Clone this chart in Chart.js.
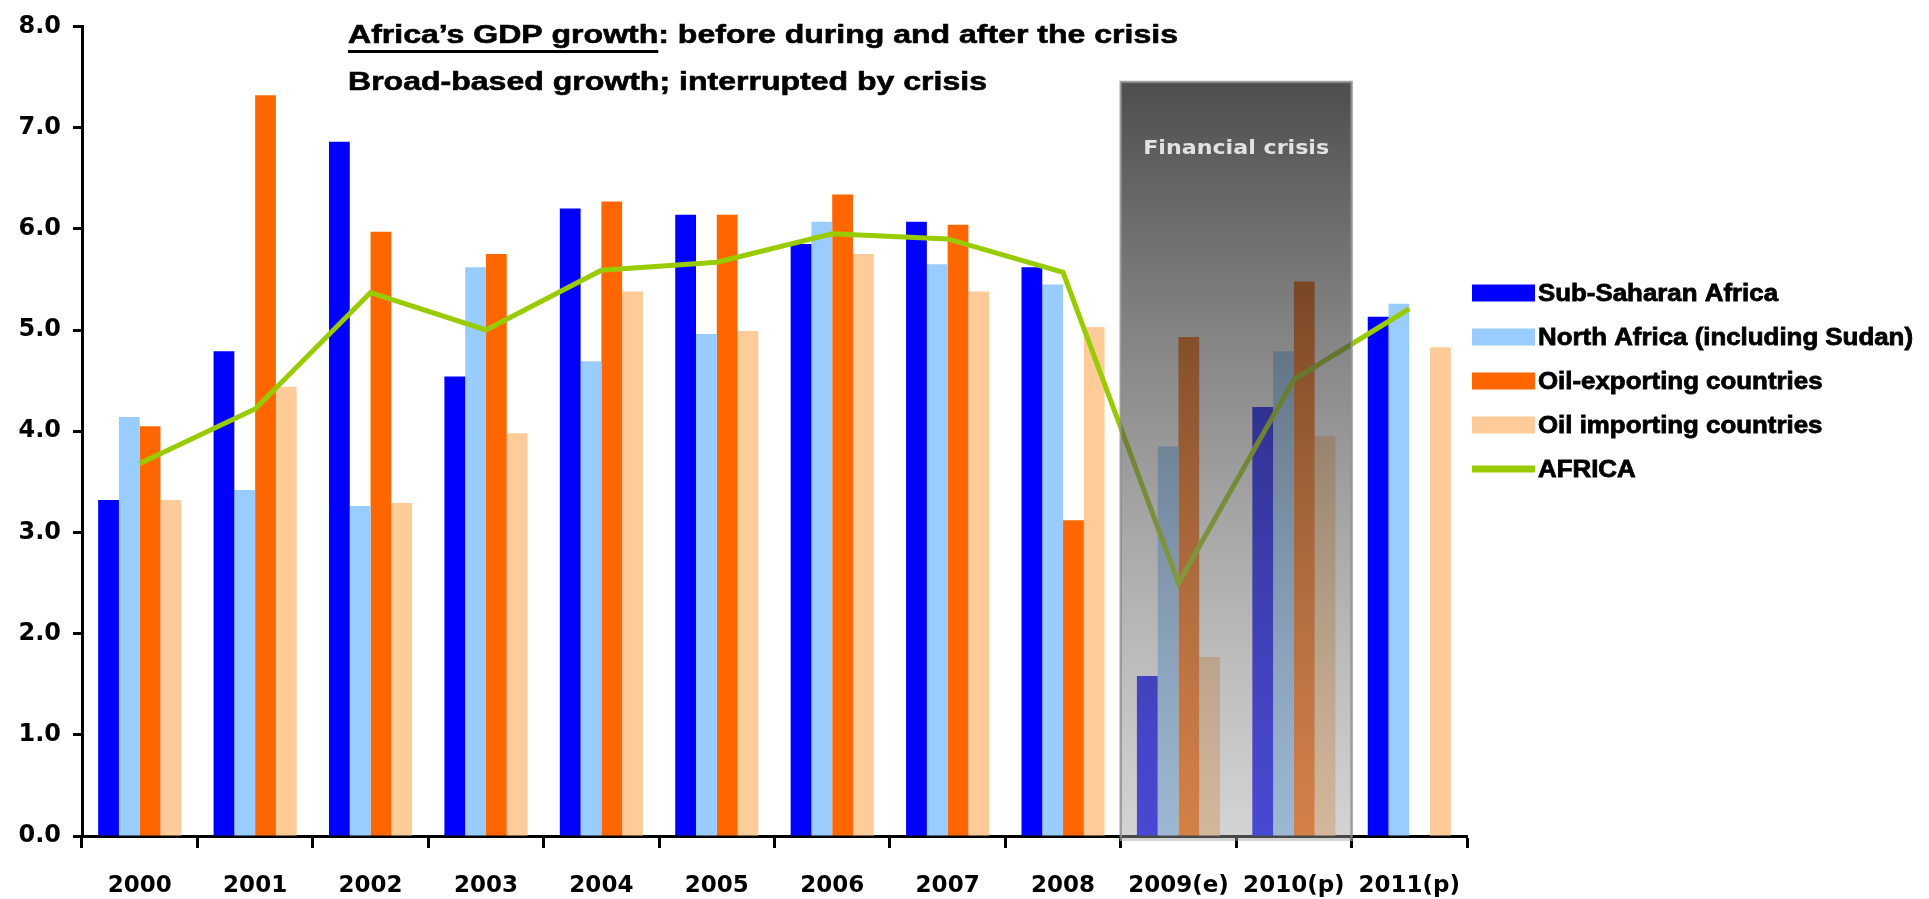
<!DOCTYPE html>
<html lang="en">
<head>
<meta charset="UTF-8">
<title>Africa's GDP growth</title>
<script src="https://cdn.jsdelivr.net/npm/chart.js"></script>
<style>
  body { margin: 0; background: #ffffff; }
  .wrap { position: relative; width: 1929px; height: 899px; }
</style>
</head>
<body>
<div class="wrap"><canvas id="gdpChart"></canvas></div>
<script>
// values (% growth)
const years = ['2000', '2001', '2002', '2003', '2004', '2005', '2006', '2007', '2008', '2009(e)', '2010(p)', '2011(p)'];
const subSaharan = [3.32, 4.79, 6.86, 4.54, 6.20, 6.14, 5.85, 6.07, 5.62, 1.58, 4.24, 5.13];
const northAfrica = [4.14, 3.42, 3.26, 5.62, 4.69, 4.96, 6.07, 5.65, 5.45, 3.85, 4.79, 5.26];
const oilExporting = [4.05, 7.32, 5.97, 5.75, 6.27, 6.14, 6.34, 6.04, 3.12, 4.93, 5.48, null];
const oilImporting = [3.32, 4.44, 3.29, 3.98, 5.38, 4.99, 5.75, 5.38, 5.03, 1.77, 3.95, 4.83];
const africa = [3.68, 4.22, 5.37, 5.00, 5.59, 5.67, 5.95, 5.90, 5.57, 2.50, 4.51, 5.21];

const seriesNames = ['Sub-Saharan Africa', 'North Africa (including Sudan)', 'Oil-exporting countries', 'Oil importing countries', 'AFRICA'];
const seriesColors = ['#0000ff', '#99ccff', '#ff6600', '#ffcc99', '#99cc00'];

const titleLine1 = 'Africa\u2019s GDP growth: before during and after the crisis';
const titleUnderlined = 'Africa\u2019s GDP growth';
const titleLine2 = 'Broad-based growth; interrupted by crisis';
const crisisLabel = 'Financial crisis';
const crisisFrom = 9;   // index of 2009(e)
const crisisTo = 10;    // index of 2010(p)
const crisisTop = 7.45;

// shaded "financial crisis" panel, drawn over bars and line
const crisisBox = {
    id: 'crisisBox',
    afterDatasetsDraw(chart) {
        const { ctx, scales: { x, y } } = chart;
        const half = (x.getPixelForValue(1) - x.getPixelForValue(0)) / 2;
        const left = x.getPixelForValue(crisisFrom) - half;
        const right = x.getPixelForValue(crisisTo) + half;
        const top = y.getPixelForValue(crisisTop);
        const bottom = y.getPixelForValue(0) + 5;

        ctx.save();
        const g = ctx.createLinearGradient(0, top, 0, bottom);
        g.addColorStop(0, 'rgba(18,18,18,0.75)');
        g.addColorStop(1, 'rgba(160,160,160,0.45)');
        ctx.fillStyle = g;
        ctx.fillRect(left, top, right - left, bottom - top);
        ctx.strokeStyle = 'rgba(140,140,140,0.8)';
        ctx.lineWidth = 2.5;
        ctx.beginPath();
        ctx.moveTo(left, bottom);
        ctx.lineTo(left, top);
        ctx.lineTo(right, top);
        ctx.lineTo(right, bottom);
        ctx.stroke();

        ctx.font = 'bold 19px "DejaVu Sans"';
        const sx = 186 / ctx.measureText(crisisLabel).width;
        ctx.translate((left + right) / 2, 154);
        ctx.scale(sx, 1);
        ctx.fillStyle = '#e2e2e2';
        ctx.textAlign = 'center';
        ctx.textBaseline = 'alphabetic';
        ctx.fillText(crisisLabel, 0, 0);
        ctx.restore();
    }
};

// text stretched to the width it has in the original
function wideText(ctx, text, x, y, sx, weight) {
    ctx.save();
    ctx.translate(x, y);
    ctx.scale(sx, 1);
    ctx.fillText(text, 0, 0);
    ctx.lineWidth = weight;
    ctx.strokeStyle = ctx.fillStyle;
    ctx.strokeText(text, 0, 0);
    ctx.restore();
}

// title lines and the legend on the right
const decorations = {
    id: 'decorations',
    afterDraw(chart) {
        const { ctx, chartArea } = chart;
        ctx.save();
        ctx.fillStyle = '#000000';
        ctx.font = 'bold 25px "Liberation Sans", Arial, sans-serif';
        ctx.textBaseline = 'alphabetic';
        const tsx = 830 / ctx.measureText(titleLine1).width;
        const tx = 348;
        wideText(ctx, titleLine1, tx, 43, tsx, 0.6);
        ctx.fillRect(tx, 50, ctx.measureText(titleUnderlined).width * tsx, 3);
        wideText(ctx, titleLine2, tx, 90, tsx, 0.6);

        // legend
        const boxX = chartArea.right + 5;
        ctx.font = 'bold 24px "Liberation Sans", Arial, sans-serif';
        ctx.textBaseline = 'middle';
        const lsx = 375 / ctx.measureText(seriesNames[1]).width;
        seriesNames.forEach((name, i) => {
            const cy = 293 + i * 44;
            ctx.fillStyle = seriesColors[i];
            if (i === 4) ctx.fillRect(boxX, cy - 3.5, 63, 7);
            else ctx.fillRect(boxX, cy - 8.5, 63, 17);
            ctx.fillStyle = '#000000';
            wideText(ctx, name, boxX + 66, cy + 1, lsx, 0.8);
        });
        ctx.restore();
    }
};

const barSet = (i, data) => ({
    type: 'bar',
    label: seriesNames[i],
    data: data,
    backgroundColor: seriesColors[i],
    borderWidth: 0,
    barPercentage: 1.0,
    categoryPercentage: 0.72,
    order: 1
});

new Chart(document.getElementById('gdpChart'), {
    data: {
        labels: years,
        datasets: [
            {
                type: 'line',
                label: seriesNames[4],
                data: africa,
                borderColor: seriesColors[4],
                borderWidth: 5,
                pointRadius: 0,
                tension: 0,
                fill: false,
                order: 0
            },
            barSet(0, subSaharan),
            barSet(1, northAfrica),
            barSet(2, oilExporting),
            barSet(3, oilImporting)
        ]
    },
    options: {
        responsive: true,
        maintainAspectRatio: false,
        animation: false,
        layout: { padding: { top: 23, right: 462, left: 0, bottom: 0 } },
        plugins: {
            legend: { display: false },
            tooltip: { enabled: false }
        },
        scales: {
            x: {
                grid: {
                    offset: true,
                    drawOnChartArea: false,
                    drawTicks: true,
                    tickLength: 12,
                    tickWidth: 3,
                    tickColor: '#000000'
                },
                border: { display: true, color: '#000000', width: 3 },
                ticks: {
                    color: '#000000',
                    font: { family: 'DejaVu Sans', weight: 'bold', size: 23 },
                    padding: 24,
                    autoSkip: false,
                    maxRotation: 0,
                    minRotation: 0
                },
                afterFit(scale) { scale.height = 63; }
            },
            y: {
                min: 0,
                max: 8,
                ticks: {
                    stepSize: 1,
                    color: '#000000',
                    font: { family: 'DejaVu Sans', weight: 'bold', size: 24 },
                    padding: 12,
                    callback: v => v.toFixed(1)
                },
                grid: {
                    drawOnChartArea: false,
                    drawTicks: true,
                    tickLength: 9,
                    tickWidth: 3,
                    tickColor: '#000000'
                },
                border: { display: true, color: '#000000', width: 3 },
                afterFit(scale) { scale.width = 82; }
            }
        }
    },
    plugins: [crisisBox, decorations]
});
</script>
</body>
</html>
